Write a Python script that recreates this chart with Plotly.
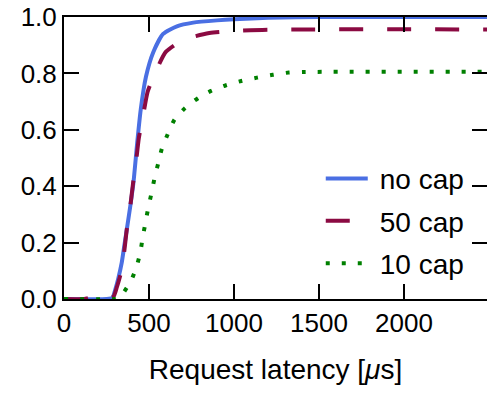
import plotly.graph_objects as go

# ---- data ----
x_nocap = [0, 250, 285, 300, 320, 339, 355, 369, 390, 408, 430, 451, 482, 525, 583, 664, 760, 900, 1000, 1200, 1500, 2500]
y_nocap = [0, 0, 0.004, 0.03, 0.075, 0.127, 0.19, 0.245, 0.33, 0.41, 0.55, 0.67, 0.788, 0.875, 0.94, 0.967, 0.98, 0.988, 0.992, 0.997, 1.0, 1.0]

x_50cap = [0, 120, 150, 250, 290, 310, 335, 353, 370, 388, 406, 424, 440, 468, 492, 535, 600, 706, 855, 994, 1200, 2500]
y_50cap = [0, 0, 0.004, 0.005, 0.008, 0.04, 0.093, 0.162, 0.25, 0.32, 0.41, 0.487, 0.57, 0.66, 0.735, 0.80, 0.877, 0.92, 0.943, 0.95, 0.955, 0.956]

x_10cap = [0, 300, 330, 345, 394, 427, 449, 463, 480, 496, 516, 533, 555, 576, 610, 649, 710, 788, 865, 953, 1043, 1135, 1228, 1322, 1418, 2500]
y_10cap = [0, 0, 0.005, 0.018, 0.064, 0.115, 0.166, 0.219, 0.273, 0.325, 0.379, 0.43, 0.483, 0.534, 0.584, 0.635, 0.676, 0.712, 0.738, 0.758, 0.773, 0.785, 0.795, 0.803, 0.805, 0.806]

series_names = ["no cap", "50 cap", "10 cap"]
x_ticks = [0, 500, 1000, 1500, 2000]
y_ticks = [0.0, 0.2, 0.4, 0.6, 0.8, 1.0]

FONT = "Liberation Sans, Arial, sans-serif"
PAD = "\u2005"  # small gap between legend sample and label

fig = go.Figure()
fig.add_trace(go.Scatter(x=x_nocap, y=y_nocap, mode="lines", name=PAD + series_names[0],
                         line=dict(color="#4a6fe3", width=4, shape="spline", smoothing=0.6),
                         legendgroup="a"))
fig.add_trace(go.Scatter(x=x_50cap, y=y_50cap, mode="lines", name=PAD + series_names[1],
                         line=dict(color="#8b0a42", width=4, dash="24px,24px", shape="spline", smoothing=0.6),
                         legendgroup="b"))
fig.add_trace(go.Scatter(x=x_10cap, y=y_10cap, mode="lines", name=PAD + series_names[2],
                         line=dict(color="#008000", width=4, dash="4px,12px", shape="spline", smoothing=0.6),
                         legendgroup="c"))
# empty helper trace so the right-hand tick axis is drawn
fig.add_trace(go.Scatter(x=[None], y=[None], yaxis="y2", showlegend=False, hoverinfo="skip"))

axis_common = dict(ticks="inside", ticklen=15, tickwidth=2, tickcolor="black",
                   showgrid=False, zeroline=False,
                   tickfont=dict(family=FONT, size=26, color="black"))

fig.update_layout(
    width=487, height=393,
    margin=dict(l=64, r=0, t=17, b=94),
    plot_bgcolor="white", paper_bgcolor="white",
    showlegend=True,
    legend=dict(x=0.607, y=0.515, xanchor="left", yanchor="top",
                bgcolor="rgba(0,0,0,0)", borderwidth=0,
                font=dict(family=FONT, size=28, color="black"),
                tracegroupgap=3, itemwidth=42),
    xaxis=dict(range=[0, 2488], tickvals=x_ticks, ticktext=[str(v) for v in x_ticks],
               showline=True, linewidth=2, linecolor="black", mirror="ticks",
               title=dict(text="Request latency [<i>μ</i>s]", standoff=22,
                          font=dict(family=FONT, size=28, color="black")),
               **axis_common),
    yaxis=dict(range=[0, 1.0], tickvals=y_ticks, ticktext=[f"{v:.1f}" for v in y_ticks],
               showline=True, linewidth=2, linecolor="black", mirror=False,
               **axis_common),
    yaxis2=dict(range=[0, 1.0], tickvals=y_ticks, overlaying="y", side="right",
                showticklabels=False, showline=False, ticks="inside", ticklen=15,
                tickwidth=2, tickcolor="black", showgrid=False, zeroline=False),
)

fig.write_html("out.html")
